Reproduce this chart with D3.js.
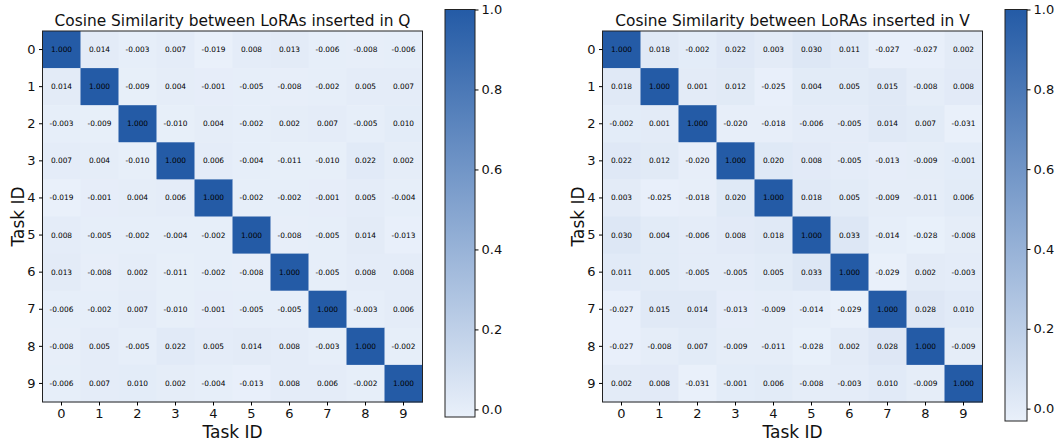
<!DOCTYPE html>
<html>
<head>
<meta charset="utf-8">
<script src="https://cdn.jsdelivr.net/npm/d3@7"></script>
<style>
  html, body { margin: 0; padding: 0; background: #fff; }
  svg { display: block; font-family: "DejaVu Sans", sans-serif; }
</style>
</head>
<body>
<svg id="chart" width="1056" height="443"></svg>
<script>
const taskIds = [0, 1, 2, 3, 4, 5, 6, 7, 8, 9];
const cosQ = [
  [1.000, 0.014, -0.003, 0.007, -0.019, 0.008, 0.013, -0.006, -0.008, -0.006],
  [0.014, 1.000, -0.009, 0.004, -0.001, -0.005, -0.008, -0.002, 0.005, 0.007],
  [-0.003, -0.009, 1.000, -0.010, 0.004, -0.002, 0.002, 0.007, -0.005, 0.010],
  [0.007, 0.004, -0.010, 1.000, 0.006, -0.004, -0.011, -0.010, 0.022, 0.002],
  [-0.019, -0.001, 0.004, 0.006, 1.000, -0.002, -0.002, -0.001, 0.005, -0.004],
  [0.008, -0.005, -0.002, -0.004, -0.002, 1.000, -0.008, -0.005, 0.014, -0.013],
  [0.013, -0.008, 0.002, -0.011, -0.002, -0.008, 1.000, -0.005, 0.008, 0.008],
  [-0.006, -0.002, 0.007, -0.010, -0.001, -0.005, -0.005, 1.000, -0.003, 0.006],
  [-0.008, 0.005, -0.005, 0.022, 0.005, 0.014, 0.008, -0.003, 1.000, -0.002],
  [-0.006, 0.007, 0.010, 0.002, -0.004, -0.013, 0.008, 0.006, -0.002, 1.000]
];
const cosV = [
  [1.000, 0.018, -0.002, 0.022, 0.003, 0.030, 0.011, -0.027, -0.027, 0.002],
  [0.018, 1.000, 0.001, 0.012, -0.025, 0.004, 0.005, 0.015, -0.008, 0.008],
  [-0.002, 0.001, 1.000, -0.020, -0.018, -0.006, -0.005, 0.014, 0.007, -0.031],
  [0.022, 0.012, -0.020, 1.000, 0.020, 0.008, -0.005, -0.013, -0.009, -0.001],
  [0.003, -0.025, -0.018, 0.020, 1.000, 0.018, 0.005, -0.009, -0.011, 0.006],
  [0.030, 0.004, -0.006, 0.008, 0.018, 1.000, 0.033, -0.014, -0.028, -0.008],
  [0.011, 0.005, -0.005, -0.005, 0.005, 0.033, 1.000, -0.029, 0.002, -0.003],
  [-0.027, 0.015, 0.014, -0.013, -0.009, -0.014, -0.029, 1.000, 0.028, 0.010],
  [-0.027, -0.008, 0.007, -0.009, -0.011, -0.028, 0.002, 0.028, 1.000, -0.009],
  [0.002, 0.008, -0.031, -0.001, 0.006, -0.008, -0.003, 0.010, -0.009, 1.000]
];
const colorbarTicks = [0.0, 0.2, 0.4, 0.6, 0.8, 1.0];
const titles = ["Cosine Similarity between LoRAs inserted in Q", "Cosine Similarity between LoRAs inserted in V"];
const axisLabel = "Task ID";

const svg = d3.select("#chart");
const lightColor = "#e9f0fa", darkColor = "#245ba6";

function panel(matrix, title, opts) {
  const g = svg.append("g");
  const vmin = d3.min(matrix.flat());
  const vmax = d3.max(matrix.flat());
  const color = d3.scaleLinear().domain([vmin, vmax]).range([lightColor, darkColor]).interpolate(d3.interpolateRgb);
  const x = d3.scaleBand().domain(taskIds).range([opts.left, opts.right]);
  const y = d3.scaleBand().domain(taskIds).range([opts.top, opts.bottom]);

  const cells = [];
  matrix.forEach((row, i) => row.forEach((v, j) => cells.push({ i, j, v })));

  g.selectAll("rect.cell").data(cells).join("rect")
    .attr("class", "cell")
    .attr("x", d => x(taskIds[d.j]))
    .attr("y", d => y(taskIds[d.i]))
    .attr("width", x.bandwidth() + 0.5)
    .attr("height", y.bandwidth() + 0.5)
    .attr("fill", d => color(d.v));

  g.selectAll("text.val").data(cells).join("text")
    .attr("class", "val")
    .attr("x", d => x(taskIds[d.j]) + x.bandwidth() / 2)
    .attr("y", d => y(taskIds[d.i]) + y.bandwidth() / 2)
    .attr("text-anchor", "middle")
    .attr("dominant-baseline", "central")
    .attr("font-size", 7.4)
    .attr("fill", "#000")
    .text(d => d3.format(".3f")(d.v).replace("−", "-"));

  g.append("rect")
    .attr("x", opts.left).attr("y", opts.top)
    .attr("width", opts.right - opts.left).attr("height", opts.bottom - opts.top)
    .attr("fill", "none").attr("stroke", "#222").attr("stroke-width", 1);

  const xAxis = g.append("g").attr("transform", `translate(0,${opts.bottom})`)
    .call(d3.axisBottom(x).tickSize(3.5).tickPadding(3.5));
  xAxis.select(".domain").remove();
  xAxis.selectAll("text").attr("font-size", 13).attr("font-family", "DejaVu Sans").attr("fill", "#111");

  const yAxis = g.append("g").attr("transform", `translate(${opts.left},0)`)
    .call(d3.axisLeft(y).tickSize(3.5).tickPadding(3.5));
  yAxis.select(".domain").remove();
  yAxis.selectAll("text").attr("font-size", 13).attr("font-family", "DejaVu Sans").attr("fill", "#111");

  g.append("text")
    .attr("x", (opts.left + opts.right) / 2).attr("y", 26)
    .attr("text-anchor", "middle").attr("font-size", 15.4).attr("fill", "#111")
    .text(title);

  g.append("text")
    .attr("x", (opts.left + opts.right) / 2).attr("y", 438)
    .attr("text-anchor", "middle").attr("font-size", 17).attr("fill", "#111")
    .text(axisLabel);

  g.append("text")
    .attr("transform", `translate(${opts.left - 18.5},${(opts.top + opts.bottom) / 2}) rotate(-90)`)
    .attr("text-anchor", "middle").attr("font-size", 17).attr("fill", "#111")
    .text(axisLabel);

  // colorbar
  const cb = opts.cb;
  const cbScale = d3.scaleLinear().domain([vmin, vmax]).range([cb.bottom, cb.top]);
  const gradId = "grad" + opts.id;
  const grad = svg.append("defs").append("linearGradient")
    .attr("id", gradId).attr("x1", 0).attr("y1", 1).attr("x2", 0).attr("y2", 0);
  grad.append("stop").attr("offset", "0%").attr("stop-color", color(vmin));
  grad.append("stop").attr("offset", "100%").attr("stop-color", color(vmax));
  g.append("rect")
    .attr("x", cb.left).attr("y", cb.top)
    .attr("width", cb.width).attr("height", cb.bottom - cb.top)
    .attr("fill", `url(#${gradId})`).attr("stroke", "#222").attr("stroke-width", 1);
  const cbAxis = g.append("g").attr("transform", `translate(${cb.left + cb.width},0)`)
    .call(d3.axisRight(cbScale).tickValues(colorbarTicks).tickFormat(d3.format(".1f")).tickSize(3.5).tickPadding(3));
  cbAxis.select(".domain").remove();
  cbAxis.selectAll("text").attr("font-size", 13).attr("font-family", "DejaVu Sans").attr("fill", "#111");
}

panel(cosQ, titles[0], { id: "q", left: 42.5, right: 422.5, top: 31, bottom: 402,
  cb: { left: 445, width: 30, top: 9.5, bottom: 417 } });
panel(cosV, titles[1], { id: "v", left: 602.5, right: 982.5, top: 31, bottom: 402,
  cb: { left: 1005, width: 22, top: 9.5, bottom: 421 } });
</script>
</body>
</html>
